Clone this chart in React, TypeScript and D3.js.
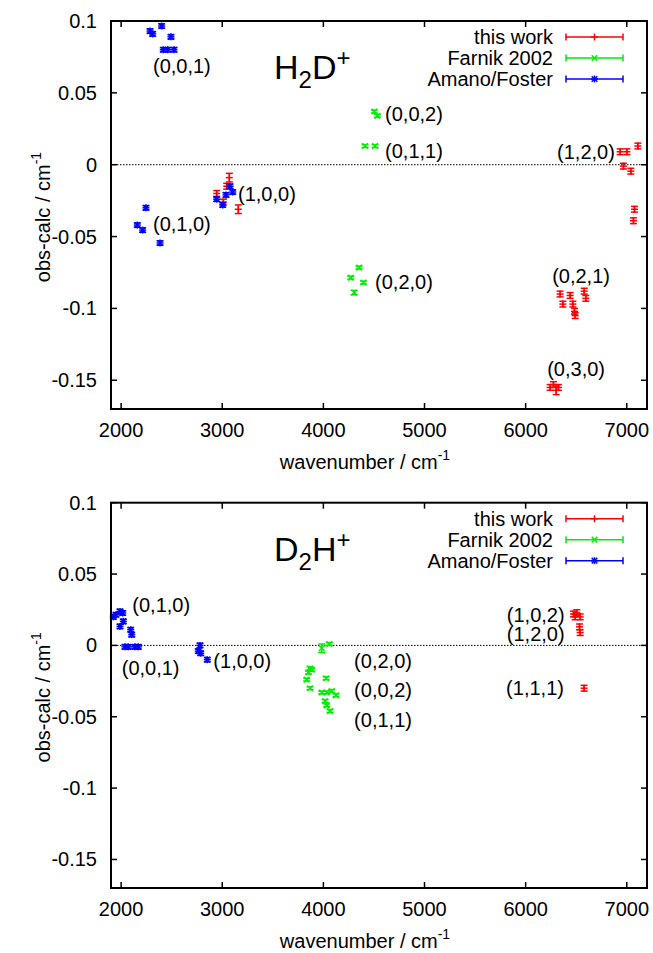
import React from "react";
import * as d3 from "d3";

// axis ticks shared by both panels
const xTicks = [2000, 3000, 4000, 5000, 6000, 7000];
const yTicks = [0.1, 0.05, 0, -0.05, -0.1, -0.15];
const yTickLabels = ["0.1", "0.05", "0", "-0.05", "-0.1", "-0.15"];

type Pt = { x: number; y: number; e: number };
type Label = { text: string; x: number; y: number };

// H2D+ : this work
const h2dThisWork: Pt[] = [
  { x: 2945, y: -0.020, e: 0.002 },
  { x: 3011, y: -0.026, e: 0.002 },
  { x: 3044, y: -0.015, e: 0.002 },
  { x: 3070, y: -0.009, e: 0.003 },
  { x: 3159, y: -0.031, e: 0.003 },
  { x: 6935, y: 0.009, e: 0.002 },
  { x: 7001, y: 0.009, e: 0.002 },
  { x: 7110, y: 0.013, e: 0.002 },
  { x: 6967, y: -0.001, e: 0.002 },
  { x: 7040, y: -0.0045, e: 0.002 },
  { x: 7076, y: -0.031, e: 0.002 },
  { x: 7066, y: -0.039, e: 0.002 },
  { x: 6341, y: -0.090, e: 0.002 },
  { x: 6368, y: -0.097, e: 0.002 },
  { x: 6440, y: -0.091, e: 0.002 },
  { x: 6467, y: -0.097, e: 0.002 },
  { x: 6483, y: -0.102, e: 0.002 },
  { x: 6490, y: -0.105, e: 0.002 },
  { x: 6579, y: -0.088, e: 0.002 },
  { x: 6595, y: -0.093, e: 0.002 },
  { x: 6242, y: -0.155, e: 0.002 },
  { x: 6275, y: -0.153, e: 0.002 },
  { x: 6302, y: -0.157, e: 0.003 },
  { x: 6324, y: -0.155, e: 0.002 },
];

// H2D+ : Farnik 2002
const h2dFarnik: Pt[] = [
  { x: 4504, y: 0.037, e: 0.001 },
  { x: 4534, y: 0.034, e: 0.001 },
  { x: 4412, y: 0.013, e: 0.001 },
  { x: 4511, y: 0.013, e: 0.001 },
  { x: 4353, y: -0.0716, e: 0.001 },
  { x: 4271, y: -0.0786, e: 0.001 },
  { x: 4396, y: -0.082, e: 0.001 },
  { x: 4304, y: -0.089, e: 0.0015 },
];

// H2D+ : Amano/Foster
const h2dAmano: Pt[] = [
  { x: 2286, y: 0.093, e: 0.0015 },
  { x: 2312, y: 0.091, e: 0.0015 },
  { x: 2401, y: 0.0965, e: 0.0015 },
  { x: 2493, y: 0.089, e: 0.0015 },
  { x: 2417, y: 0.080, e: 0.0015 },
  { x: 2461, y: 0.080, e: 0.0015 },
  { x: 2523, y: 0.080, e: 0.0015 },
  { x: 2160, y: -0.042, e: 0.0015 },
  { x: 2213, y: -0.0455, e: 0.0015 },
  { x: 2246, y: -0.030, e: 0.0015 },
  { x: 2385, y: -0.0545, e: 0.0015 },
  { x: 2945, y: -0.024, e: 0.0015 },
  { x: 3005, y: -0.028, e: 0.0015 },
  { x: 3037, y: -0.021, e: 0.0015 },
  { x: 3077, y: -0.015, e: 0.0015 },
  { x: 3104, y: -0.019, e: 0.0015 },
];

const h2dLabels: Label[] = [
  { text: "(0,0,1)", x: 2315, y: 0.069 },
  { text: "(1,0,0)", x: 3156, y: -0.0205 },
  { text: "(0,1,0)", x: 2315, y: -0.041 },
  { text: "(0,0,2)", x: 4610, y: 0.035 },
  { text: "(0,1,1)", x: 4610, y: 0.0092 },
  { text: "(0,2,0)", x: 4511, y: -0.0816 },
  { text: "(1,2,0)", x: 6311, y: 0.0087 },
  { text: "(0,2,1)", x: 6262, y: -0.0774 },
  { text: "(0,3,0)", x: 6213, y: -0.1423 },
];

// D2H+ : this work
const d2hThisWork: Pt[] = [
  { x: 6473, y: 0.022, e: 0.002 },
  { x: 6506, y: 0.023, e: 0.002 },
  { x: 6539, y: 0.020, e: 0.002 },
  { x: 6490, y: 0.020, e: 0.002 },
  { x: 6533, y: 0.013, e: 0.002 },
  { x: 6539, y: 0.009, e: 0.002 },
  { x: 6578, y: -0.030, e: 0.002 },
];

// D2H+ : Farnik 2002
const d2hFarnik: Pt[] = [
  { x: 3984, y: -0.002, e: 0.003 },
  { x: 4059, y: 0.001, e: 0.001 },
  { x: 3868, y: -0.016, e: 0.001 },
  { x: 3852, y: -0.019, e: 0.001 },
  { x: 3885, y: -0.017, e: 0.001 },
  { x: 3835, y: -0.024, e: 0.001 },
  { x: 3868, y: -0.030, e: 0.001 },
  { x: 4027, y: -0.023, e: 0.001 },
  { x: 3984, y: -0.033, e: 0.001 },
  { x: 4033, y: -0.033, e: 0.001 },
  { x: 4083, y: -0.032, e: 0.001 },
  { x: 4125, y: -0.035, e: 0.001 },
  { x: 4017, y: -0.039, e: 0.001 },
  { x: 4033, y: -0.042, e: 0.001 },
  { x: 4066, y: -0.046, e: 0.001 },
];

// D2H+ : Amano/Foster
const d2hAmano: Pt[] = [
  { x: 1923, y: 0.020, e: 0.0015 },
  { x: 1949, y: 0.0215, e: 0.0015 },
  { x: 1989, y: 0.0238, e: 0.0015 },
  { x: 2016, y: 0.0227, e: 0.0015 },
  { x: 1989, y: 0.0133, e: 0.0015 },
  { x: 2022, y: 0.0168, e: 0.0015 },
  { x: 2095, y: 0.011, e: 0.0015 },
  { x: 2105, y: 0.0075, e: 0.0015 },
  { x: 2038, y: -0.001, e: 0.0015 },
  { x: 2071, y: -0.001, e: 0.0015 },
  { x: 2137, y: -0.001, e: 0.0015 },
  { x: 2170, y: -0.001, e: 0.0015 },
  { x: 2780, y: 0.0, e: 0.0015 },
  { x: 2763, y: -0.004, e: 0.0015 },
  { x: 2787, y: -0.0055, e: 0.0015 },
  { x: 2852, y: -0.010, e: 0.0015 },
];

const d2hLabels: Label[] = [
  { text: "(0,1,0)", x: 2111, y: 0.0285 },
  { text: "(0,0,1)", x: 2006, y: -0.0156 },
  { text: "(1,0,0)", x: 2912, y: -0.0112 },
  { text: "(0,2,0)", x: 4304, y: -0.0112 },
  { text: "(0,0,2)", x: 4304, y: -0.0315 },
  { text: "(0,1,1)", x: 4304, y: -0.052 },
  { text: "(1,0,2)", x: 5814, y: 0.0214 },
  { text: "(1,2,0)", x: 5814, y: 0.0082 },
  { text: "(1,1,1)", x: 5807, y: -0.0296 },
];

const legendNames = ["this work", "Farnik 2002", "Amano/Foster"];
const colors = ["#ff0000", "#00ee00", "#0000ff"];
const markerKinds = ["plus", "cross", "star"];

const FONT = "'Liberation Sans', Arial, Helvetica, sans-serif";
const W = 653;
const H = 953;
const left = 111;
const right = 647;

function Marker({ kind, cx, cy, color }: { kind: string; cx: number; cy: number; color: string }) {
  const s = 3.5;
  const d = 2.8;
  const segs: number[][] = [];
  if (kind === "plus" || kind === "star") {
    segs.push([cx - s, cy, cx + s, cy], [cx, cy - s, cx, cy + s]);
  }
  if (kind === "cross" || kind === "star") {
    segs.push([cx - d, cy - d, cx + d, cy + d], [cx - d, cy + d, cx + d, cy - d]);
  }
  return (
    <g stroke={color} strokeWidth={1.5}>
      {segs.map((q, i) => (
        <line key={i} x1={q[0]} y1={q[1]} x2={q[2]} y2={q[3]} />
      ))}
    </g>
  );
}

function Panel({
  top,
  bottom,
  title,
  series,
  labels,
}: {
  top: number;
  bottom: number;
  title: string[];
  series: Pt[][];
  labels: Label[];
}) {
  const x = d3.scaleLinear().domain([1900, 7200]).range([left, right]);
  const y = d3.scaleLinear().domain([-0.17, 0.1]).range([bottom, top]);
  const tick = 6;
  const cap = 3.5;

  return (
    <g fontFamily={FONT}>
      {/* zero line */}
      <line
        x1={left}
        x2={right}
        y1={y(0)}
        y2={y(0)}
        stroke="#000"
        strokeWidth={1}
        strokeDasharray="1.5,1.5"
      />

      {/* data */}
      {series.map((pts, si) => (
        <g key={si} stroke={colors[si]} strokeWidth={1.5}>
          {pts.map((p, i) => {
            const cx = x(p.x);
            const y0 = y(p.y - p.e);
            const y1 = y(p.y + p.e);
            return (
              <g key={i}>
                <line x1={cx} x2={cx} y1={y0} y2={y1} />
                <line x1={cx - cap} x2={cx + cap} y1={y0} y2={y0} />
                <line x1={cx - cap} x2={cx + cap} y1={y1} y2={y1} />
                <Marker kind={markerKinds[si]} cx={cx} cy={y(p.y)} color={colors[si]} />
              </g>
            );
          })}
        </g>
      ))}

      {/* frame */}
      <rect
        x={left}
        y={top}
        width={right - left}
        height={bottom - top}
        fill="none"
        stroke="#000"
        strokeWidth={2}
      />

      {/* ticks */}
      {xTicks.map((t) => (
        <g key={t} stroke="#000" strokeWidth={1.5}>
          <line x1={x(t)} x2={x(t)} y1={bottom} y2={bottom - tick} />
          <line x1={x(t)} x2={x(t)} y1={top} y2={top + tick} />
        </g>
      ))}
      {yTicks.map((t) => (
        <g key={t} stroke="#000" strokeWidth={1.5}>
          <line x1={left} x2={left + tick} y1={y(t)} y2={y(t)} />
          <line x1={right} x2={right - tick} y1={y(t)} y2={y(t)} />
        </g>
      ))}

      {xTicks.map((t) => (
        <text key={t} x={x(t)} y={bottom + 28} fontSize={20} textAnchor="middle">
          {t}
        </text>
      ))}
      {yTicks.map((t, i) => (
        <text key={t} x={97} y={y(t) + 7} fontSize={20} textAnchor="end">
          {yTickLabels[i]}
        </text>
      ))}

      {/* axis titles */}
      <text x={(left + right) / 2 - 14} y={bottom + 60} fontSize={20} textAnchor="middle">
        wavenumber / cm
        <tspan dy={-9} fontSize={14}>
          -1
        </tspan>
      </text>
      <text
        transform={`translate(50,${(top + bottom) / 2 + 2}) rotate(-90)`}
        fontSize={20}
        textAnchor="middle"
      >
        obs-calc / cm
        <tspan dy={-9} fontSize={14}>
          -1
        </tspan>
      </text>

      {/* molecule title */}
      <text x={274} y={top + 58} fontSize={34}>
        {title[0]}
        <tspan fontSize={24} dy={9}>
          {title[1]}
        </tspan>
        <tspan dy={-9}>{title[2]}</tspan>
        <tspan fontSize={24} dy={-13}>
          {title[3]}
        </tspan>
      </text>

      {/* band labels */}
      {labels.map((l, i) => (
        <text key={i} x={x(l.x)} y={y(l.y) + 7} fontSize={20}>
          {l.text}
        </text>
      ))}

      {/* legend */}
      {legendNames.map((name, i) => {
        const ly = top + 16 + i * 21;
        return (
          <g key={name}>
            <text x={553} y={ly + 7} fontSize={20} textAnchor="end">
              {name}
            </text>
            <g stroke={colors[i]} strokeWidth={1.5}>
              <line x1={566} x2={623} y1={ly} y2={ly} />
              <line x1={566} x2={566} y1={ly - cap} y2={ly + cap} />
              <line x1={623} x2={623} y1={ly - cap} y2={ly + cap} />
            </g>
            <Marker kind={markerKinds[i]} cx={594.5} cy={ly} color={colors[i]} />
          </g>
        );
      })}
    </g>
  );
}

export default function App() {
  return (
    <svg
      width={W}
      height={H}
      style={{ position: "absolute", left: 0, top: 0, background: "#fff" }}
    >
      <rect width={W} height={H} fill="#fff" />
      <Panel
        top={21}
        bottom={409}
        title={["H", "2", "D", "+"]}
        series={[h2dThisWork, h2dFarnik, h2dAmano]}
        labels={h2dLabels}
      />
      <Panel
        top={502.7}
        bottom={888}
        title={["D", "2", "H", "+"]}
        series={[d2hThisWork, d2hFarnik, d2hAmano]}
        labels={d2hLabels}
      />
    </svg>
  );
}
